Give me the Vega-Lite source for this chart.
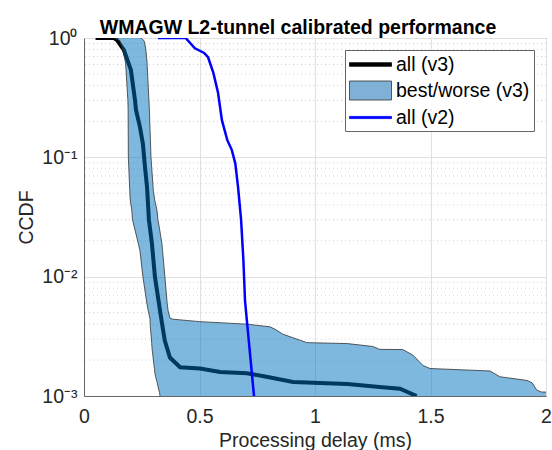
{
  "$schema": "https://vega.github.io/schema/vega-lite/v6.json",
  "width": 462,
  "height": 358,
  "autosize": {"type": "none"},
  "padding": {"left": 84, "top": 38, "right": 6, "bottom": 54},
  "background": "white",
  "title": {"text": "WMAGW L2-tunnel calibrated performance", "anchor": "middle", "offset": -10, "dx": -17, "fontSize": 19.5, "fontWeight": "bold", "color": "#000000", "font": "Liberation Sans"},
  "datasets": {
    "band": [
      {"y": 1, "xlo": 0.13, "xhi": 0.247},
      {"y": 0.95, "xlo": 0.155, "xhi": 0.26},
      {"y": 0.84, "xlo": 0.165, "xhi": 0.266},
      {"y": 0.79, "xlo": 0.168, "xhi": 0.268},
      {"y": 0.62, "xlo": 0.18, "xhi": 0.273},
      {"y": 0.3, "xlo": 0.19, "xhi": 0.281},
      {"y": 0.25, "xlo": 0.191, "xhi": 0.283},
      {"y": 0.1, "xlo": 0.192, "xhi": 0.29},
      {"y": 0.053, "xlo": 0.198, "xhi": 0.3},
      {"y": 0.044, "xlo": 0.2, "xhi": 0.306},
      {"y": 0.036, "xlo": 0.207, "xhi": 0.316},
      {"y": 0.03, "xlo": 0.21, "xhi": 0.32},
      {"y": 0.0245, "xlo": 0.221, "xhi": 0.328},
      {"y": 0.019, "xlo": 0.235, "xhi": 0.337},
      {"y": 0.0166, "xlo": 0.242, "xhi": 0.34},
      {"y": 0.01, "xlo": 0.255, "xhi": 0.35},
      {"y": 0.006, "xlo": 0.272, "xhi": 0.36},
      {"y": 0.0052, "xlo": 0.278, "xhi": 0.364},
      {"y": 0.0045, "xlo": 0.285, "xhi": 0.372},
      {"y": 0.0044, "xlo": 0.286, "xhi": 0.385},
      {"y": 0.0042, "xlo": 0.286, "xhi": 0.5},
      {"y": 0.004, "xlo": 0.287, "xhi": 0.705},
      {"y": 0.0038, "xlo": 0.287, "xhi": 0.805},
      {"y": 0.0036, "xlo": 0.288, "xhi": 0.83},
      {"y": 0.0033, "xlo": 0.29, "xhi": 0.86},
      {"y": 0.0028, "xlo": 0.293, "xhi": 0.965},
      {"y": 0.00275, "xlo": 0.293, "xhi": 1.14},
      {"y": 0.0026, "xlo": 0.294, "xhi": 1.25},
      {"y": 0.00246, "xlo": 0.295, "xhi": 1.28},
      {"y": 0.00245, "xlo": 0.295, "xhi": 1.38},
      {"y": 0.0022, "xlo": 0.298, "xhi": 1.424},
      {"y": 0.0018, "xlo": 0.303, "xhi": 1.468},
      {"y": 0.0017, "xlo": 0.305, "xhi": 1.498},
      {"y": 0.00162, "xlo": 0.306, "xhi": 1.758},
      {"y": 0.00155, "xlo": 0.307, "xhi": 1.775},
      {"y": 0.00145, "xlo": 0.31, "xhi": 1.8},
      {"y": 0.00135, "xlo": 0.314, "xhi": 1.918},
      {"y": 0.00129, "xlo": 0.317, "xhi": 1.94},
      {"y": 0.00112, "xlo": 0.324, "xhi": 1.96},
      {"y": 0.00108, "xlo": 0.326, "xhi": 1.98},
      {"y": 0.00107, "xlo": 0.327, "xhi": 2.1},
      {"y": 0.001, "xlo": 0.329, "xhi": 2.1}
    ],
    "v3": [
      {"x": 0.05, "y": 1},
      {"x": 0.13, "y": 1},
      {"x": 0.143, "y": 0.96},
      {"x": 0.173, "y": 0.79},
      {"x": 0.203, "y": 0.54},
      {"x": 0.221, "y": 0.3},
      {"x": 0.225, "y": 0.25},
      {"x": 0.242, "y": 0.18},
      {"x": 0.255, "y": 0.13},
      {"x": 0.264, "y": 0.083},
      {"x": 0.273, "y": 0.056},
      {"x": 0.281, "y": 0.03},
      {"x": 0.294, "y": 0.019},
      {"x": 0.307, "y": 0.01},
      {"x": 0.329, "y": 0.0052},
      {"x": 0.342, "y": 0.0036},
      {"x": 0.35, "y": 0.0029},
      {"x": 0.372, "y": 0.0021},
      {"x": 0.416, "y": 0.00174},
      {"x": 0.502, "y": 0.0017},
      {"x": 0.589, "y": 0.00159},
      {"x": 0.705, "y": 0.00155},
      {"x": 0.79, "y": 0.00145},
      {"x": 0.905, "y": 0.00131},
      {"x": 1.14, "y": 0.00126},
      {"x": 1.28, "y": 0.00119},
      {"x": 1.368, "y": 0.00115},
      {"x": 1.44, "y": 0.001}
    ],
    "v2": [
      {"x": 0.32, "y": 1},
      {"x": 0.44, "y": 1},
      {"x": 0.48, "y": 0.82},
      {"x": 0.52, "y": 0.75},
      {"x": 0.537, "y": 0.69},
      {"x": 0.56, "y": 0.51},
      {"x": 0.58, "y": 0.35},
      {"x": 0.597, "y": 0.205},
      {"x": 0.62, "y": 0.14},
      {"x": 0.64, "y": 0.115},
      {"x": 0.655, "y": 0.089},
      {"x": 0.667, "y": 0.056},
      {"x": 0.68, "y": 0.03},
      {"x": 0.69, "y": 0.0138},
      {"x": 0.697, "y": 0.0063},
      {"x": 0.705, "y": 0.0043},
      {"x": 0.736, "y": 0.001}
    ],
    "minor": [
      {"v": 0.002}, {"v": 0.003}, {"v": 0.004}, {"v": 0.005}, {"v": 0.006}, {"v": 0.007}, {"v": 0.008}, {"v": 0.009},
      {"v": 0.02}, {"v": 0.03}, {"v": 0.04}, {"v": 0.05}, {"v": 0.06}, {"v": 0.07}, {"v": 0.08}, {"v": 0.09},
      {"v": 0.2}, {"v": 0.3}, {"v": 0.4}, {"v": 0.5}, {"v": 0.6}, {"v": 0.7}, {"v": 0.8}, {"v": 0.9}
    ],
    "leg": [
      {"series": "all (v3)", "x": null, "y": null},
      {"series": "best/worse (v3)", "x": null, "y": null},
      {"series": "all (v2)", "x": null, "y": null}
    ]
  },
  "layer": [
    {
      "data": {"name": "minor"},
      "mark": {"type": "rule", "color": "#d2d2d2", "strokeDash": [1, 3], "strokeWidth": 1},
      "encoding": {
        "y": {"field": "v", "type": "quantitative", "scale": {"type": "log", "domain": [0.001, 1], "nice": false}, "axis": {"title": "CCDF", "values": [0.001, 0.01, 0.1, 1], "labelExpr": "datum.value >= 0.99 ? '10⁰' : datum.value >= 0.099 ? '10⁻¹' : datum.value >= 0.0099 ? '10⁻²' : '10⁻³'"}}
      }
    },
    {
      "data": {"name": "v3"},
      "mark": {"type": "line", "color": "#000000", "strokeWidth": 4, "clip": true},
      "encoding": {
        "x": {"field": "x", "type": "quantitative", "scale": {"domain": [0, 2], "nice": false}, "axis": {"title": "Processing delay (ms)", "values": [0, 0.5, 1, 1.5, 2], "format": "~g"}},
        "y": {"field": "y", "type": "quantitative", "scale": {"type": "log", "domain": [0.001, 1], "nice": false}, "axis": {"title": "CCDF", "values": [0.001, 0.01, 0.1, 1], "labelExpr": "datum.value >= 0.99 ? '10⁰' : datum.value >= 0.099 ? '10⁻¹' : datum.value >= 0.0099 ? '10⁻²' : '10⁻³'"}}
      }
    },
    {
      "data": {"name": "band"},
      "mark": {"type": "area", "orient": "horizontal", "color": "#0072bd", "opacity": 0.5, "clip": true},
      "encoding": {
        "y": {"field": "y", "type": "quantitative", "scale": {"type": "log", "domain": [0.001, 1], "nice": false}, "axis": {"title": "CCDF", "values": [0.001, 0.01, 0.1, 1], "labelExpr": "datum.value >= 0.99 ? '10⁰' : datum.value >= 0.099 ? '10⁻¹' : datum.value >= 0.0099 ? '10⁻²' : '10⁻³'"}},
        "x": {"field": "xlo", "type": "quantitative", "scale": {"domain": [0, 2], "nice": false}, "axis": {"title": "Processing delay (ms)", "values": [0, 0.5, 1, 1.5, 2], "format": "~g"}},
        "x2": {"field": "xhi"}
      }
    },
    {
      "data": {"name": "band"},
      "mark": {"type": "line", "color": "#333333", "strokeWidth": 1, "opacity": 0.8, "clip": true},
      "encoding": {
        "y": {"field": "y", "type": "quantitative", "scale": {"type": "log", "domain": [0.001, 1], "nice": false}, "axis": {"title": "CCDF", "values": [0.001, 0.01, 0.1, 1], "labelExpr": "datum.value >= 0.99 ? '10⁰' : datum.value >= 0.099 ? '10⁻¹' : datum.value >= 0.0099 ? '10⁻²' : '10⁻³'"}},
        "x": {"field": "xlo", "type": "quantitative", "scale": {"domain": [0, 2], "nice": false}, "axis": {"title": "Processing delay (ms)", "values": [0, 0.5, 1, 1.5, 2], "format": "~g"}},
        "order": {"field": "y", "sort": "descending"}
      }
    },
    {
      "data": {"name": "band"},
      "mark": {"type": "line", "color": "#333333", "strokeWidth": 1, "opacity": 0.8, "clip": true},
      "encoding": {
        "y": {"field": "y", "type": "quantitative", "scale": {"type": "log", "domain": [0.001, 1], "nice": false}, "axis": {"title": "CCDF", "values": [0.001, 0.01, 0.1, 1], "labelExpr": "datum.value >= 0.99 ? '10⁰' : datum.value >= 0.099 ? '10⁻¹' : datum.value >= 0.0099 ? '10⁻²' : '10⁻³'"}},
        "x": {"field": "xhi", "type": "quantitative", "scale": {"domain": [0, 2], "nice": false}, "axis": {"title": "Processing delay (ms)", "values": [0, 0.5, 1, 1.5, 2], "format": "~g"}},
        "order": {"field": "y", "sort": "descending"}
      }
    },
    {
      "data": {"name": "v2"},
      "mark": {"type": "line", "color": "#0000ff", "strokeWidth": 2.5, "clip": true},
      "encoding": {
        "x": {"field": "x", "type": "quantitative", "scale": {"domain": [0, 2], "nice": false}, "axis": {"title": "Processing delay (ms)", "values": [0, 0.5, 1, 1.5, 2], "format": "~g"}},
        "y": {"field": "y", "type": "quantitative", "scale": {"type": "log", "domain": [0.001, 1], "nice": false}, "axis": {"title": "CCDF", "values": [0.001, 0.01, 0.1, 1], "labelExpr": "datum.value >= 0.99 ? '10⁰' : datum.value >= 0.099 ? '10⁻¹' : datum.value >= 0.0099 ? '10⁻²' : '10⁻³'"}}
      }
    },
    {
      "data": {"name": "leg"},
      "mark": {"type": "point", "filled": true, "strokeWidth": 0.8, "opacity": 1},
      "encoding": {
        "x": {"field": "x", "type": "quantitative", "scale": {"domain": [0, 2], "nice": false}, "axis": {"title": "Processing delay (ms)", "values": [0, 0.5, 1, 1.5, 2], "format": "~g"}},
        "y": {"field": "y", "type": "quantitative", "scale": {"type": "log", "domain": [0.001, 1], "nice": false}, "axis": {"title": "CCDF", "values": [0.001, 0.01, 0.1, 1], "labelExpr": "datum.value >= 0.99 ? '10⁰' : datum.value >= 0.099 ? '10⁻¹' : datum.value >= 0.0099 ? '10⁻²' : '10⁻³'"}},
        "color": {"field": "series", "type": "nominal", "scale": {"domain": ["all (v3)", "best/worse (v3)", "all (v2)"], "range": ["#000000", "#7fb0d6", "#0000ff"]}, "legend": {"title": null, "orient": "none", "legendX": 261, "legendY": 12}},
        "stroke": {"field": "series", "type": "nominal", "scale": {"domain": ["all (v3)", "best/worse (v3)", "all (v2)"], "range": ["#000000", "#333333", "#0000ff"]}, "legend": {"title": null, "orient": "none", "legendX": 261, "legendY": 12}},
        "shape": {"field": "series", "type": "nominal", "scale": {"domain": ["all (v3)", "best/worse (v3)", "all (v2)"], "range": ["M-1,-0.18H3.2V0.18H-1Z", "M-1,-0.95H3.2V0.95H-1Z", "M-1,-0.11H3.2V0.11H-1Z"]}, "legend": {"title": null, "orient": "none", "legendX": 261, "legendY": 12}}
      }
    }
  ],
  "config": {
    "font": "Liberation Sans",
    "view": {"stroke": "#666666", "strokeWidth": 1},
    "axis": {"domainColor": "#666666", "gridColor": "#e0e0e0", "gridWidth": 1, "ticks": false, "labelFontSize": 19.5, "labelColor": "#262626", "titleFontSize": 19.5, "titleFontWeight": "normal", "titleColor": "#262626", "labelFont": "Liberation Sans", "titleFont": "Liberation Sans", "labelFlush": false},
    "axisX": {"labelPadding": 11, "titlePadding": 6},
    "axisY": {"labelPadding": 7, "titlePadding": 5},
    "legend": {"padding": 4, "strokeColor": "#666666", "fillColor": "#ffffff", "labelFontSize": 19.5, "labelFont": "Liberation Sans", "labelColor": "#000000", "symbolSize": 400, "rowPadding": 5, "labelOffset": 26, "symbolStrokeWidth": 0.8, "cornerRadius": 0}
  }
}
